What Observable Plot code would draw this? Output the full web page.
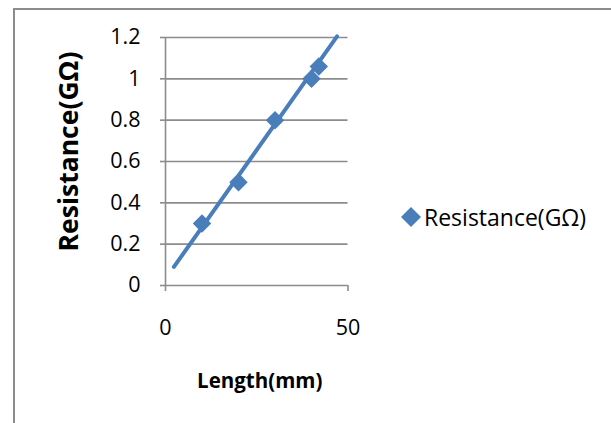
<!DOCTYPE html>
<html><head><meta charset="utf-8">
<script src="https://cdn.jsdelivr.net/npm/d3@7"></script>
<script src="https://cdn.jsdelivr.net/npm/@observablehq/plot@0.6"></script>
<style>
html,body{margin:0;padding:0;background:#fff;}
#wrap{position:relative;width:611px;height:423px;overflow:hidden;font-family:"Open Sans",sans-serif;}
#frame{position:absolute;left:13px;top:8px;right:-10px;bottom:-10px;border-left:2px solid #8c8c8c;border-top:2px solid #8c8c8c;}
#chart{position:absolute;left:0;top:0;}
#legend{position:absolute;left:402px;top:200px;}
#legend svg{margin-right:4px !important;}
</style>
</head><body>
<div id="wrap"><div id="frame"></div><div id="chart"></div><div id="legend"></div></div>
<script>
// data
const lengthMm = [10, 20, 30, 40, 42];
const resistanceGOhm = [0.3, 0.5, 0.8, 1.0, 1.06];
// linear trendline end points
const trendX = [2.3, 47];
const trendY = [0.09, 1.205];
const xTicks = [0, 50];
const yTicks = [0, 0.2, 0.4, 0.6, 0.8, 1, 1.2];
const seriesName = "Resistance(GΩ)";
const xTitle = "Length(mm)";
const yTitle = "Resistance(GΩ)";

const blue = "#4a7ebb";
const gray = "#8c8c8c";

const points = lengthMm.map((x, i) => ({x, y: resistanceGOhm[i]}));
const trend = trendX.map((x, i) => ({x, y: trendY[i]}));

const chart = Plot.plot({
  width: 611,
  height: 423,
  marginLeft: 165,
  marginRight: 263.5,
  marginTop: 37,
  marginBottom: 138,
  style: {fontFamily: "'Open Sans', sans-serif", fontSize: "21.5px", color: "#000", background: "transparent", overflow: "visible"},
  x: {domain: [0, 50]},
  y: {domain: [0, 1.2]},
  marks: [
    Plot.gridY(yTicks, {stroke: gray, strokeOpacity: 1, strokeWidth: 1.6}),
    Plot.ruleX([0], {stroke: gray, strokeWidth: 1.6}),
    Plot.axisY(yTicks, {tickSize: 5, tickPadding: 20, stroke: gray, strokeOpacity: 1, strokeWidth: 1.6, tickFormat: d => String(d), label: null}),
    Plot.axisX(xTicks, {tickSize: 6, tickPadding: 28, stroke: gray, strokeOpacity: 1, strokeWidth: 1.6, tickFormat: d => String(d), label: null}),
    Plot.line(trend, {x: "x", y: "y", stroke: blue, strokeWidth: 4, clip: false}),
    Plot.dot(points, {x: "x", y: "y", symbol: "diamond2", r: 8.3, fill: blue, stroke: "none"}),
    Plot.text([yTitle], {frameAnchor: "left", textAnchor: "middle", lineAnchor: "middle", rotate: -90, dx: -96, dy: -10, fontWeight: "bold", fontSize: 26.5, fill: "#000"}),
    Plot.text([xTitle], {frameAnchor: "bottom", textAnchor: "middle", lineAnchor: "middle", dx: 3, dy: 95.5, fontWeight: "bold", fontSize: 20.5, fill: "#000"})
  ]
});
document.getElementById("chart").appendChild(chart);

const legend = Plot.legend({
  symbol: {domain: [seriesName], range: ["diamond2"]},
  fill: blue,
  stroke: "none",
  r: 8,
  swatchSize: 18,
  style: {fontFamily: "'Open Sans', sans-serif", fontSize: "23px", color: "#000", margin: 0}
});
document.getElementById("legend").appendChild(legend);
</script>
</body></html>
